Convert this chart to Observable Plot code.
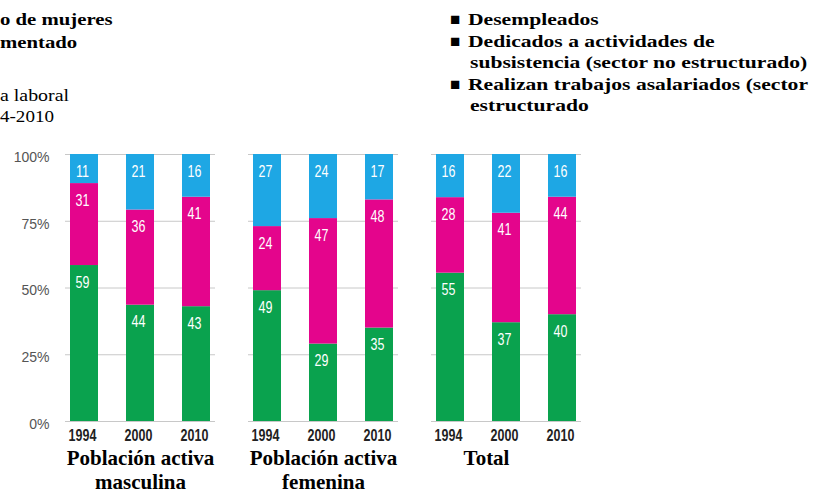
<!DOCTYPE html>
<html><head><meta charset="utf-8">
<script src="https://cdn.jsdelivr.net/npm/d3@7"></script>
<script src="https://cdn.jsdelivr.net/npm/@observablehq/plot@0.6"></script>
<style>
html,body{margin:0;padding:0;background:#fff;}
body{width:815px;height:493px;overflow:hidden;position:relative;}
.t{position:absolute;font-family:"Liberation Serif","Times New Roman",serif;font-size:17px;line-height:17px;white-space:nowrap;color:#000;}
.b{font-weight:bold;}
.r{transform-origin:left center;transform:scaleX(1.22);}
.l{transform-origin:left center;transform:scaleX(1.27);}
#chart{position:absolute;left:0;top:130px;}
</style></head><body>
<div class="t b r" style="left:0px;top:11px">o de mujeres</div>
<div class="t b r" style="left:0px;top:34px">mentado</div>
<div class="t r" style="left:0px;top:87px;transform:scaleX(1.17)">a laboral</div>
<div class="t r" style="left:0px;top:108px;transform:scaleX(1.12)">4-2010</div>

<div class="t b" style="left:450px;top:11px">■</div>
<div class="t b l" style="left:468px;top:11px">Desempleados</div>
<div class="t b" style="left:450px;top:33px">■</div>
<div class="t b l" style="left:468px;top:33px">Dedicados a actividades de</div>
<div class="t b l" style="left:470px;top:54px">subsistencia (sector no estructurado)</div>
<div class="t b" style="left:450px;top:76px">■</div>
<div class="t b l" style="left:468px;top:76px">Realizan trabajos asalariados (sector</div>
<div class="t b l" style="left:470px;top:97px">estructurado</div>
<div id="chart"></div>
<script>
const groups = ["Población activa masculina", "Población activa femenina", "Total"];
const groupLabels = ["Población activa\nmasculina", "Población activa\nfemenina", "Total"];
const years = ["1994", "2000", "2010"];
const categories = ["Realizan trabajos asalariados (sector estructurado", "Dedicados a actividades de subsistencia (sector no estructurado)", "Desempleados"];
const colors = ["#0aa24e", "#e4058c", "#1ea7e4"];
// values per group, per year (1994, 2000, 2010)
const asalariados  = [[59, 44, 43], [49, 29, 35], [55, 37, 40]];
const subsistencia = [[31, 36, 41], [24, 47, 48], [28, 41, 44]];
const desempleados = [[11, 21, 16], [27, 24, 17], [16, 22, 16]];
const yTicks = [0, 0.25, 0.5, 0.75, 1];

const series = [asalariados, subsistencia, desempleados];
const rows = [];
groups.forEach((g, gi) => {
  years.forEach((yr, yi) => {
    series.forEach((s, si) => {
      rows.push({group: g, year: yr, cat: categories[si], value: s[gi][yi]});
    });
  });
});

const sans = '"Liberation Sans", Arial, sans-serif';
const serif = '"Liberation Serif", "Times New Roman", serif';
const fxLabelOpts = {anchor: "bottom", tickSize: 0, tickPadding: 0, dy: 27, label: null,
  tickFormat: d => groupLabels[groups.indexOf(d)], fontSize: 21, fontWeight: "bold",
  fontFamily: serif, fill: "#000", lineHeight: 1.12};

const chart = Plot.plot({
  width: 815,
  height: 363,
  marginLeft: 65,
  marginRight: 233,
  marginTop: 24,
  marginBottom: 72,
  style: {background: "transparent"},
  fx: {domain: groups, paddingInner: 0.18, paddingOuter: 0, label: null, axis: null},
  x: {domain: years, paddingInner: 0.5, paddingOuter: 0.07, label: null, axis: null},
  y: {domain: [0, 1], axis: null},
  color: {domain: categories, range: colors},
  marks: [
    Plot.gridY(yTicks, {stroke: "#c8c8c8", strokeOpacity: 1}),
    Plot.barY(rows, Plot.stackY({offset: "normalize", fx: "group", x: "year", y: "value", fill: "cat"})),
    Plot.text(rows, Plot.stackY2({offset: "normalize", fx: "group", x: "year", y: "value", text: "value",
      dy: 17, dx: -2, fill: "white", fontSize: 16, fontFamily: sans, className: "vlab"})),
    Plot.axisY({ticks: yTicks, tickFormat: d => Math.round(d * 100) + "%", tickSize: 0, tickPadding: 16,
      label: null, fontSize: 14, fontFamily: sans, fill: "#555", dy: 3}),
    Plot.axisX({tickSize: 0, tickPadding: 8, label: null, fontSize: 16, fontWeight: "bold",
      fontFamily: sans, fill: "#222", dx: -2, className: "ylab"}),
    Plot.axisFx({...fxLabelOpts, ticks: groups.slice(0, 2)}),
    Plot.axisFx({...fxLabelOpts, ticks: groups.slice(2), dx: -20})
  ]
});
document.getElementById("chart").appendChild(chart);

// condensed look for the narrow sans labels
function condense(sel, factor) {
  d3.select(chart).selectAll(sel).each(function() {
    const w = this.getComputedTextLength();
    if (w > 0) d3.select(this).attr("textLength", w * factor).attr("lengthAdjust", "spacingAndGlyphs");
  });
}
condense(".vlab text", 0.78);
condense(".ylab text", 0.78);
</script>
</body></html>
